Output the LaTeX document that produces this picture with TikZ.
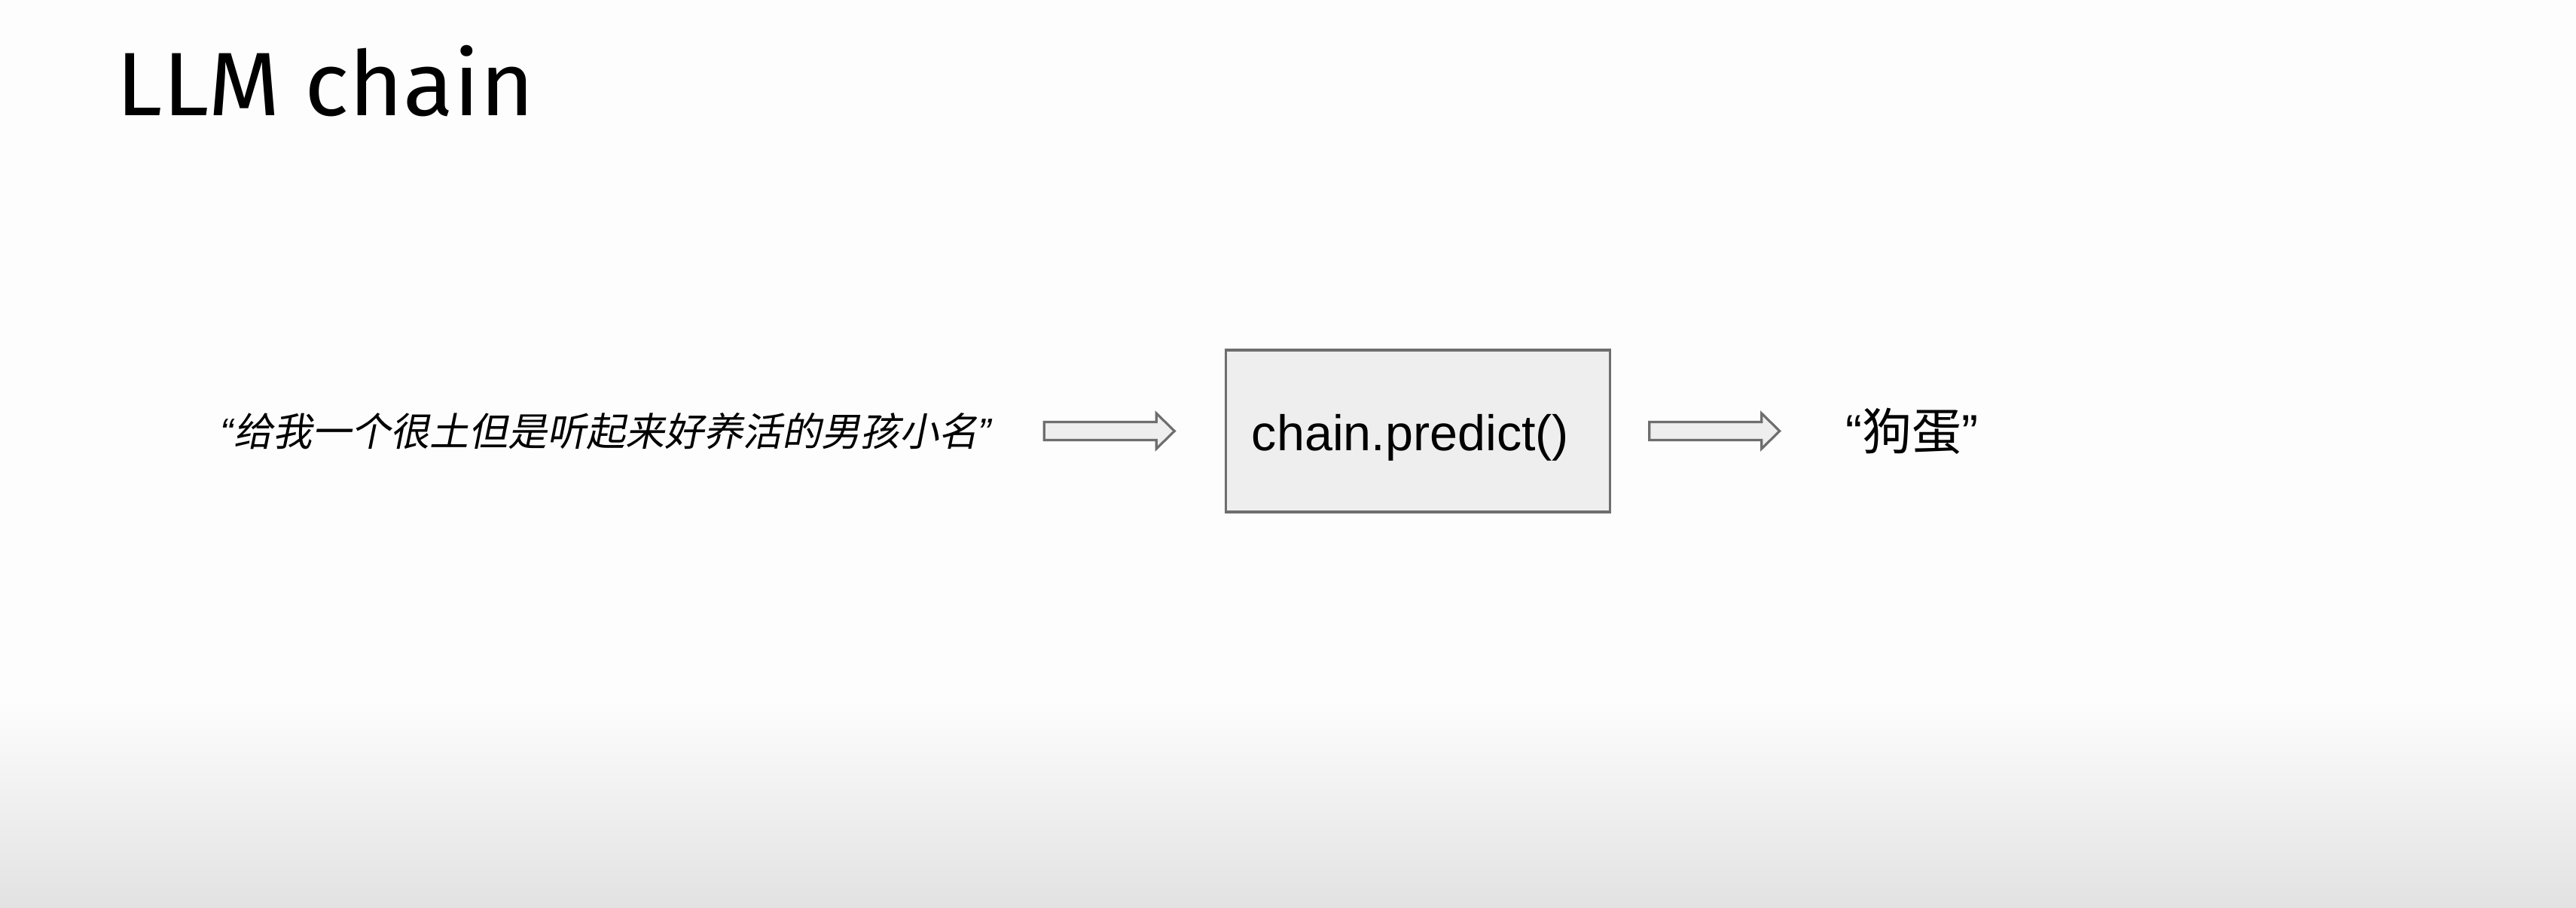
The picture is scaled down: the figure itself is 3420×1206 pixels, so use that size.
\documentclass[tikz,border=0pt]{standalone}
\usepackage{fontspec}
\setmainfont{Liberation Sans}
\newfontfamily\titlefont[FakeStretch=1.03]{Fira Sans}
\newfontfamily\cjk{Noto Sans CJK SC}
\newfontfamily\cjkit[FakeSlant=0.2]{Noto Sans CJK SC}
\usetikzlibrary{calc}
\definecolor{bgtop}{HTML}{FDFDFD}
\definecolor{bgbot}{HTML}{E2E2E2}
\definecolor{boxfill}{HTML}{EEEEEE}
\definecolor{boxline}{HTML}{6E6E6E}
\newcommand\blockarr[2]{%
  \draw[blockarrow] ($(#1)+(0,-12)$) -- ($(#2)+(-24,-12)$) -- ($(#2)+(-24,-23.5)$)
    -- (#2) -- ($(#2)+(-24,23.5)$) -- ($(#2)+(-24,12)$) -- ($(#1)+(0,12)$) -- cycle;}
\begin{document}
\begin{tikzpicture}[x=0.01cm,y=-0.01cm,
  blockbox/.style={draw=boxline,fill=boxfill,line width=0.9pt,inner sep=0pt},
  blockarrow/.style={draw=boxline,fill=boxfill,line width=0.9pt,line join=miter},
  txt/.style={inner sep=0pt,text=black}]
\fill[bgtop] (0,0) rectangle (3420,1206);
\shade[top color=bgtop,bottom color=bgbot] (0,930) rectangle (3420,1206);
\useasboundingbox (0,0) rectangle (3420,1206);

\node[txt,anchor=base west,font=\titlefont\fontsize{34pt}{40pt}\selectfont] (title) at (154,153) {LLM chain};

\node[txt,anchor=base west,font=\fontsize{14.8pt}{18pt}\selectfont] (query) at (292,592)
  {\itshape “{\cjkit 给我一个很土但是听起来好养活的男孩小名}”};

\node[blockbox,minimum width=5.09cm,minimum height=2.15cm,text height=0.6cm,text depth=0.09cm,
  font=\fontsize{18.9pt}{22pt}\selectfont] (chain) at (1882.5,572.5) {chain.predict()\kern0.2cm};

\node[txt,anchor=base west,font=\fontsize{18.8pt}{22pt}\selectfont] (answer) at (2450,597)
  {“{\cjk 狗蛋}”};

\coordinate (a1s) at ($(chain.west)+(-240,0)$);
\coordinate (a1e) at ($(chain.west)+(-67,0)$);
\coordinate (a2s) at ($(chain.east)+(51,0)$);
\coordinate (a2e) at ($(chain.east)+(224,0)$);
\blockarr{a1s}{a1e}
\blockarr{a2s}{a2e}
\end{tikzpicture}
\end{document}
